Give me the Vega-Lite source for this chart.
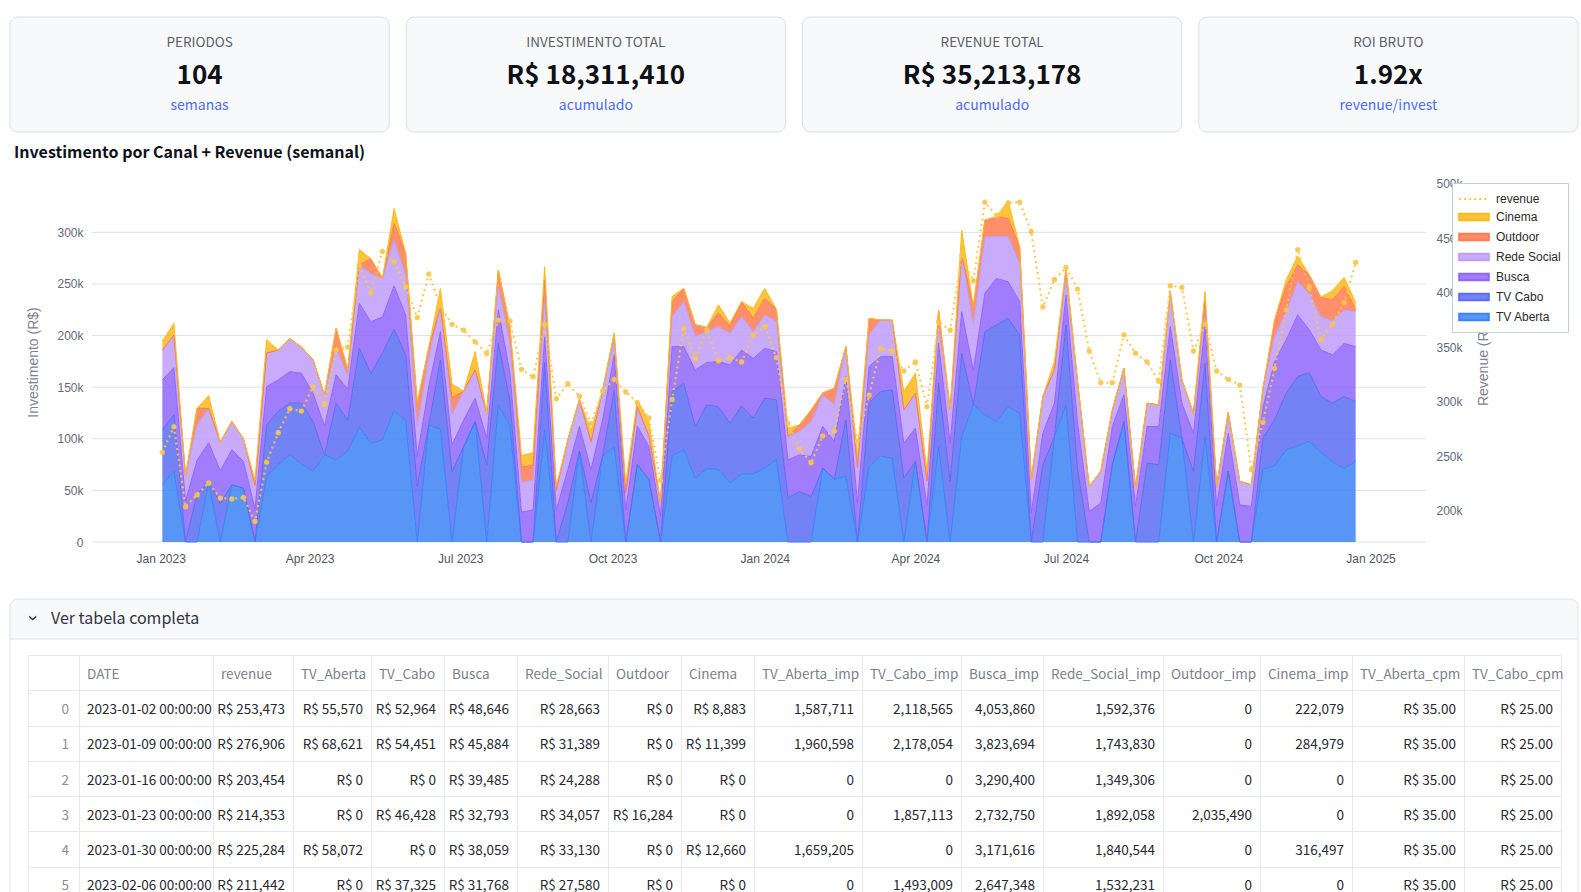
{
  "$schema": "https://vega.github.io/schema/vega-lite/v6.json",
  "background": "white",
  "padding": {"left": 9, "top": 16, "right": 4, "bottom": 0},
  "config": {
    "view": {"stroke": null},
    "font": "Liberation Sans, Arial, sans-serif",
    "locale": {"number": {"decimal": ".", "thousands": ",", "grouping": [3], "currency": ["R$ ", ""]}}
  },
  "datasets": {
    "kpis": [
      {"titulo": "PERIODOS", "valor": "104", "sub": "semanas"},
      {"titulo": "INVESTIMENTO TOTAL", "valor": "R$ 18,311,410", "sub": "acumulado"},
      {"titulo": "REVENUE TOTAL", "valor": "R$ 35,213,178", "sub": "acumulado"},
      {"titulo": "ROI BRUTO", "valor": "1.92x", "sub": "revenue/invest"}
    ],
    "tabela": [
      {"indice": 0, "DATE": "2023-01-02 00:00:00", "revenue": 253473, "TV_Aberta": 55570, "TV_Cabo": 52964, "Busca": 48646, "Rede_Social": 28663, "Outdoor": 0, "Cinema": 8883, "TV_Aberta_imp": 1587711, "TV_Cabo_imp": 2118565, "Busca_imp": 4053860, "Rede_Social_imp": 1592376, "Outdoor_imp": 0, "Cinema_imp": 222079, "TV_Aberta_cpm": 35, "TV_Cabo_cpm": 25},
      {"indice": 1, "DATE": "2023-01-09 00:00:00", "revenue": 276906, "TV_Aberta": 68621, "TV_Cabo": 54451, "Busca": 45884, "Rede_Social": 31389, "Outdoor": 0, "Cinema": 11399, "TV_Aberta_imp": 1960598, "TV_Cabo_imp": 2178054, "Busca_imp": 3823694, "Rede_Social_imp": 1743830, "Outdoor_imp": 0, "Cinema_imp": 284979, "TV_Aberta_cpm": 35, "TV_Cabo_cpm": 25},
      {"indice": 2, "DATE": "2023-01-16 00:00:00", "revenue": 203454, "TV_Aberta": 0, "TV_Cabo": 0, "Busca": 39485, "Rede_Social": 24288, "Outdoor": 0, "Cinema": 0, "TV_Aberta_imp": 0, "TV_Cabo_imp": 0, "Busca_imp": 3290400, "Rede_Social_imp": 1349306, "Outdoor_imp": 0, "Cinema_imp": 0, "TV_Aberta_cpm": 35, "TV_Cabo_cpm": 25},
      {"indice": 3, "DATE": "2023-01-23 00:00:00", "revenue": 214353, "TV_Aberta": 0, "TV_Cabo": 46428, "Busca": 32793, "Rede_Social": 34057, "Outdoor": 16284, "Cinema": 0, "TV_Aberta_imp": 0, "TV_Cabo_imp": 1857113, "Busca_imp": 2732750, "Rede_Social_imp": 1892058, "Outdoor_imp": 2035490, "Cinema_imp": 0, "TV_Aberta_cpm": 35, "TV_Cabo_cpm": 25},
      {"indice": 4, "DATE": "2023-01-30 00:00:00", "revenue": 225284, "TV_Aberta": 58072, "TV_Cabo": 0, "Busca": 38059, "Rede_Social": 33130, "Outdoor": 0, "Cinema": 12660, "TV_Aberta_imp": 1659205, "TV_Cabo_imp": 0, "Busca_imp": 3171616, "Rede_Social_imp": 1840544, "Outdoor_imp": 0, "Cinema_imp": 316497, "TV_Aberta_cpm": 35, "TV_Cabo_cpm": 25},
      {"indice": 5, "DATE": "2023-02-06 00:00:00", "revenue": 211442, "TV_Aberta": 0, "TV_Cabo": 37325, "Busca": 31768, "Rede_Social": 27580, "Outdoor": 0, "Cinema": 0, "TV_Aberta_imp": 0, "TV_Cabo_imp": 1493009, "Busca_imp": 2647348, "Rede_Social_imp": 1532231, "Outdoor_imp": 0, "Cinema_imp": 0, "TV_Aberta_cpm": 35, "TV_Cabo_cpm": 25}
    ],
    "semanal": [
      {"semana": "2023-01-02", "revenue": 253473, "TV_Aberta": 55570, "TV_Cabo": 52964, "Busca": 48646, "Rede_Social": 28663, "Outdoor": 0, "Cinema": 8883},
      {"semana": "2023-01-09", "revenue": 276906, "TV_Aberta": 68621, "TV_Cabo": 54451, "Busca": 45884, "Rede_Social": 31389, "Outdoor": 0, "Cinema": 11399},
      {"semana": "2023-01-16", "revenue": 203454, "TV_Aberta": 0, "TV_Cabo": 0, "Busca": 39485, "Rede_Social": 24288, "Outdoor": 0, "Cinema": 0},
      {"semana": "2023-01-23", "revenue": 214353, "TV_Aberta": 0, "TV_Cabo": 46428, "Busca": 32793, "Rede_Social": 34057, "Outdoor": 16284, "Cinema": 0},
      {"semana": "2023-01-30", "revenue": 225284, "TV_Aberta": 58072, "TV_Cabo": 0, "Busca": 38059, "Rede_Social": 33130, "Outdoor": 0, "Cinema": 12660},
      {"semana": "2023-02-06", "revenue": 211442, "TV_Aberta": 0, "TV_Cabo": 37325, "Busca": 31768, "Rede_Social": 27580, "Outdoor": 0, "Cinema": 0},
      {"semana": "2023-02-13", "revenue": 210700, "TV_Aberta": 55500, "TV_Cabo": 0, "Busca": 33900, "Rede_Social": 27400, "Outdoor": 0, "Cinema": 0},
      {"semana": "2023-02-20", "revenue": 212000, "TV_Aberta": 52000, "TV_Cabo": 0, "Busca": 26000, "Rede_Social": 22000, "Outdoor": 0, "Cinema": 0},
      {"semana": "2023-02-27", "revenue": 190000, "TV_Aberta": 0, "TV_Cabo": 0, "Busca": 32000, "Rede_Social": 23000, "Outdoor": 0, "Cinema": 5000},
      {"semana": "2023-03-06", "revenue": 244400, "TV_Aberta": 63500, "TV_Cabo": 50000, "Busca": 37000, "Rede_Social": 32500, "Outdoor": 0, "Cinema": 13000},
      {"semana": "2023-03-13", "revenue": 271500, "TV_Aberta": 75000, "TV_Cabo": 51500, "Busca": 30500, "Rede_Social": 29000, "Outdoor": 0, "Cinema": 0},
      {"semana": "2023-03-20", "revenue": 293500, "TV_Aberta": 84500, "TV_Cabo": 50000, "Busca": 30500, "Rede_Social": 32000, "Outdoor": 0, "Cinema": 0},
      {"semana": "2023-03-27", "revenue": 291400, "TV_Aberta": 76000, "TV_Cabo": 58500, "Busca": 29000, "Rede_Social": 25500, "Outdoor": 0, "Cinema": 0},
      {"semana": "2023-04-03", "revenue": 313500, "TV_Aberta": 68400, "TV_Cabo": 48400, "Busca": 27500, "Rede_Social": 32500, "Outdoor": 0, "Cinema": 0},
      {"semana": "2023-04-10", "revenue": 297500, "TV_Aberta": 84500, "TV_Cabo": 0, "Busca": 28000, "Rede_Social": 30000, "Outdoor": 0, "Cinema": 0},
      {"semana": "2023-04-17", "revenue": 347500, "TV_Aberta": 79700, "TV_Cabo": 54800, "Busca": 27500, "Rede_Social": 26000, "Outdoor": 19000, "Cinema": 0},
      {"semana": "2023-04-24", "revenue": 350000, "TV_Aberta": 88000, "TV_Cabo": 30000, "Busca": 30000, "Rede_Social": 13000, "Outdoor": 6000, "Cinema": 0},
      {"semana": "2023-05-01", "revenue": 425000, "TV_Aberta": 111000, "TV_Cabo": 76700, "Busca": 43500, "Rede_Social": 37000, "Outdoor": 0, "Cinema": 15000},
      {"semana": "2023-05-08", "revenue": 400000, "TV_Aberta": 95800, "TV_Cabo": 67700, "Busca": 50000, "Rede_Social": 46500, "Outdoor": 14500, "Cinema": 0},
      {"semana": "2023-05-15", "revenue": 438000, "TV_Aberta": 99000, "TV_Cabo": 84000, "Busca": 35000, "Rede_Social": 37500, "Outdoor": 0, "Cinema": 0},
      {"semana": "2023-05-22", "revenue": 428600, "TV_Aberta": 127400, "TV_Cabo": 78700, "Busca": 42000, "Rede_Social": 44500, "Outdoor": 16000, "Cinema": 14500},
      {"semana": "2023-05-29", "revenue": 405600, "TV_Aberta": 117700, "TV_Cabo": 63600, "Busca": 38700, "Rede_Social": 38700, "Outdoor": 21000, "Cinema": 0},
      {"semana": "2023-06-05", "revenue": 377300, "TV_Aberta": 0, "TV_Cabo": 53800, "Busca": 29000, "Rede_Social": 29000, "Outdoor": 22500, "Cinema": 0},
      {"semana": "2023-06-12", "revenue": 417200, "TV_Aberta": 113500, "TV_Cabo": 0, "Busca": 37000, "Rede_Social": 29000, "Outdoor": 9000, "Cinema": 0},
      {"semana": "2023-06-19", "revenue": 388000, "TV_Aberta": 109300, "TV_Cabo": 67000, "Busca": 27400, "Rede_Social": 24000, "Outdoor": 0, "Cinema": 17800},
      {"semana": "2023-06-26", "revenue": 371100, "TV_Aberta": 0, "TV_Cabo": 68000, "Busca": 26000, "Rede_Social": 29000, "Outdoor": 17000, "Cinema": 13000},
      {"semana": "2023-07-03", "revenue": 365700, "TV_Aberta": 92000, "TV_Cabo": 0, "Busca": 26000, "Rede_Social": 28000, "Outdoor": 0, "Cinema": 0},
      {"semana": "2023-07-10", "revenue": 354900, "TV_Aberta": 116700, "TV_Cabo": 0, "Busca": 22600, "Rede_Social": 27400, "Outdoor": 0, "Cinema": 17700},
      {"semana": "2023-07-17", "revenue": 344200, "TV_Aberta": 0, "TV_Cabo": 74800, "Busca": 25800, "Rede_Social": 24200, "Outdoor": 0, "Cinema": 0},
      {"semana": "2023-07-24", "revenue": 374900, "TV_Aberta": 133000, "TV_Cabo": 59500, "Busca": 32300, "Rede_Social": 24200, "Outdoor": 14500, "Cinema": 0},
      {"semana": "2023-07-31", "revenue": 374200, "TV_Aberta": 112000, "TV_Cabo": 25000, "Busca": 27000, "Rede_Social": 27000, "Outdoor": 18000, "Cinema": 0},
      {"semana": "2023-08-07", "revenue": 329700, "TV_Aberta": 0, "TV_Cabo": 0, "Busca": 29000, "Rede_Social": 29000, "Outdoor": 14500, "Cinema": 11300},
      {"semana": "2023-08-14", "revenue": 322700, "TV_Aberta": 0, "TV_Cabo": 0, "Busca": 31000, "Rede_Social": 29000, "Outdoor": 14500, "Cinema": 12000},
      {"semana": "2023-08-21", "revenue": 371100, "TV_Aberta": 108700, "TV_Cabo": 65000, "Busca": 25000, "Rede_Social": 38000, "Outdoor": 17000, "Cinema": 13000},
      {"semana": "2023-08-28", "revenue": 302700, "TV_Aberta": 0, "TV_Cabo": 0, "Busca": 31000, "Rede_Social": 19000, "Outdoor": 0, "Cinema": 4000},
      {"semana": "2023-09-04", "revenue": 316500, "TV_Aberta": 0, "TV_Cabo": 38000, "Busca": 32000, "Rede_Social": 29000, "Outdoor": 0, "Cinema": 0},
      {"semana": "2023-09-11", "revenue": 305100, "TV_Aberta": 88000, "TV_Cabo": 0, "Busca": 24000, "Rede_Social": 26000, "Outdoor": 0, "Cinema": 0},
      {"semana": "2023-09-18", "revenue": 280000, "TV_Aberta": 0, "TV_Cabo": 38000, "Busca": 32000, "Rede_Social": 27000, "Outdoor": 0, "Cinema": 11000},
      {"semana": "2023-09-25", "revenue": 309800, "TV_Aberta": 83200, "TV_Cabo": 0, "Busca": 35000, "Rede_Social": 29000, "Outdoor": 0, "Cinema": 0},
      {"semana": "2023-10-02", "revenue": 320500, "TV_Aberta": 92000, "TV_Cabo": 55000, "Busca": 34000, "Rede_Social": 14000, "Outdoor": 7000, "Cinema": 0},
      {"semana": "2023-10-09", "revenue": 308900, "TV_Aberta": 0, "TV_Cabo": 0, "Busca": 31000, "Rede_Social": 17000, "Outdoor": 0, "Cinema": 9000},
      {"semana": "2023-10-16", "revenue": 299100, "TV_Aberta": 75000, "TV_Cabo": 0, "Busca": 37000, "Rede_Social": 19000, "Outdoor": 0, "Cinema": 6700},
      {"semana": "2023-10-23", "revenue": 285200, "TV_Aberta": 60600, "TV_Cabo": 0, "Busca": 32000, "Rede_Social": 10000, "Outdoor": 0, "Cinema": 14000},
      {"semana": "2023-10-30", "revenue": 227800, "TV_Aberta": 0, "TV_Cabo": 0, "Busca": 25000, "Rede_Social": 12700, "Outdoor": 0, "Cinema": 0},
      {"semana": "2023-11-06", "revenue": 302000, "TV_Aberta": 83200, "TV_Cabo": 62600, "Busca": 43500, "Rede_Social": 29000, "Outdoor": 14500, "Cinema": 5000},
      {"semana": "2023-11-13", "revenue": 367200, "TV_Aberta": 89600, "TV_Cabo": 64200, "Busca": 35500, "Rede_Social": 43600, "Outdoor": 12900, "Cinema": 0},
      {"semana": "2023-11-20", "revenue": 339900, "TV_Aberta": 62000, "TV_Cabo": 50000, "Busca": 54800, "Rede_Social": 32300, "Outdoor": 11300, "Cinema": 0},
      {"semana": "2023-11-27", "revenue": 365900, "TV_Aberta": 70900, "TV_Cabo": 62000, "Busca": 41000, "Rede_Social": 30000, "Outdoor": 4000, "Cinema": 0},
      {"semana": "2023-12-04", "revenue": 337500, "TV_Aberta": 70300, "TV_Cabo": 60700, "Busca": 43800, "Rede_Social": 33900, "Outdoor": 13000, "Cinema": 8000},
      {"semana": "2023-12-11", "revenue": 340500, "TV_Aberta": 57400, "TV_Cabo": 57600, "Busca": 56600, "Rede_Social": 30600, "Outdoor": 7000, "Cinema": 3000},
      {"semana": "2023-12-18", "revenue": 336500, "TV_Aberta": 66000, "TV_Cabo": 65900, "Busca": 54000, "Rede_Social": 32400, "Outdoor": 14500, "Cinema": 0},
      {"semana": "2023-12-25", "revenue": 361000, "TV_Aberta": 66000, "TV_Cabo": 54000, "Busca": 58000, "Rede_Social": 25800, "Outdoor": 12900, "Cinema": 9700},
      {"semana": "2024-01-01", "revenue": 369000, "TV_Aberta": 71600, "TV_Cabo": 67800, "Busca": 48300, "Rede_Social": 32300, "Outdoor": 16000, "Cinema": 9700},
      {"semana": "2024-01-08", "revenue": 340500, "TV_Aberta": 80300, "TV_Cabo": 57400, "Busca": 46800, "Rede_Social": 29000, "Outdoor": 12000, "Cinema": 0},
      {"semana": "2024-01-15", "revenue": 280000, "TV_Aberta": 0, "TV_Cabo": 42500, "Busca": 37100, "Rede_Social": 22600, "Outdoor": 0, "Cinema": 8000},
      {"semana": "2024-01-22", "revenue": 256700, "TV_Aberta": 0, "TV_Cabo": 48900, "Busca": 35500, "Rede_Social": 22600, "Outdoor": 6500, "Cinema": 0},
      {"semana": "2024-01-29", "revenue": 243800, "TV_Aberta": 0, "TV_Cabo": 44000, "Busca": 38700, "Rede_Social": 33900, "Outdoor": 11300, "Cinema": 0},
      {"semana": "2024-02-05", "revenue": 268400, "TV_Aberta": 71600, "TV_Cabo": 0, "Busca": 40300, "Rede_Social": 30600, "Outdoor": 2000, "Cinema": 0},
      {"semana": "2024-02-12", "revenue": 273000, "TV_Aberta": 61000, "TV_Cabo": 0, "Busca": 36500, "Rede_Social": 35500, "Outdoor": 16000, "Cinema": 0},
      {"semana": "2024-02-19", "revenue": 320500, "TV_Aberta": 63500, "TV_Cabo": 54800, "Busca": 41900, "Rede_Social": 29100, "Outdoor": 0, "Cinema": 0},
      {"semana": "2024-02-26", "revenue": 263800, "TV_Aberta": 0, "TV_Cabo": 0, "Busca": 38000, "Rede_Social": 34000, "Outdoor": 0, "Cinema": 12500},
      {"semana": "2024-03-04", "revenue": 305900, "TV_Aberta": 73200, "TV_Cabo": 61300, "Busca": 35500, "Rede_Social": 30600, "Outdoor": 16100, "Cinema": 0},
      {"semana": "2024-03-11", "revenue": 348800, "TV_Aberta": 83200, "TV_Cabo": 62600, "Busca": 33800, "Rede_Social": 35400, "Outdoor": 0, "Cinema": 0},
      {"semana": "2024-03-18", "revenue": 346700, "TV_Aberta": 81300, "TV_Cabo": 66100, "Busca": 32200, "Rede_Social": 35400, "Outdoor": 0, "Cinema": 0},
      {"semana": "2024-03-25", "revenue": 328200, "TV_Aberta": 0, "TV_Cabo": 61900, "Busca": 33900, "Rede_Social": 32200, "Outdoor": 0, "Cinema": 17800},
      {"semana": "2024-04-01", "revenue": 336500, "TV_Aberta": 78000, "TV_Cabo": 0, "Busca": 32300, "Rede_Social": 33900, "Outdoor": 0, "Cinema": 19400},
      {"semana": "2024-04-08", "revenue": 295400, "TV_Aberta": 0, "TV_Cabo": 0, "Busca": 35000, "Rede_Social": 24000, "Outdoor": 0, "Cinema": 9400},
      {"semana": "2024-04-15", "revenue": 373300, "TV_Aberta": 92500, "TV_Cabo": 61300, "Busca": 38700, "Rede_Social": 16000, "Outdoor": 16300, "Cinema": 0},
      {"semana": "2024-04-22", "revenue": 365700, "TV_Aberta": 0, "TV_Cabo": 58700, "Busca": 37000, "Rede_Social": 32300, "Outdoor": 0, "Cinema": 0},
      {"semana": "2024-04-29", "revenue": 434000, "TV_Aberta": 102200, "TV_Cabo": 80700, "Busca": 40300, "Rede_Social": 55000, "Outdoor": 0, "Cinema": 24000},
      {"semana": "2024-05-06", "revenue": 411000, "TV_Aberta": 133000, "TV_Cabo": 0, "Busca": 33000, "Rede_Social": 44000, "Outdoor": 18000, "Cinema": 0},
      {"semana": "2024-05-13", "revenue": 483200, "TV_Aberta": 123200, "TV_Cabo": 80600, "Busca": 37200, "Rede_Social": 54800, "Outdoor": 16100, "Cinema": 0},
      {"semana": "2024-05-20", "revenue": 470900, "TV_Aberta": 116700, "TV_Cabo": 93600, "Busca": 45100, "Rede_Social": 40400, "Outdoor": 19400, "Cinema": 0},
      {"semana": "2024-05-27", "revenue": 482600, "TV_Aberta": 131300, "TV_Cabo": 85400, "Busca": 35500, "Rede_Social": 43600, "Outdoor": 17700, "Cinema": 17100},
      {"semana": "2024-06-03", "revenue": 483200, "TV_Aberta": 124800, "TV_Cabo": 75800, "Busca": 32300, "Rede_Social": 37000, "Outdoor": 16100, "Cinema": 0},
      {"semana": "2024-06-10", "revenue": 456200, "TV_Aberta": 0, "TV_Cabo": 0, "Busca": 28000, "Rede_Social": 32300, "Outdoor": 0, "Cinema": 0},
      {"semana": "2024-06-17", "revenue": 387000, "TV_Aberta": 0, "TV_Cabo": 74800, "Busca": 30600, "Rede_Social": 35500, "Outdoor": 0, "Cinema": 0},
      {"semana": "2024-06-24", "revenue": 412000, "TV_Aberta": 102000, "TV_Cabo": 0, "Busca": 32500, "Rede_Social": 32300, "Outdoor": 0, "Cinema": 8000},
      {"semana": "2024-07-01", "revenue": 423400, "TV_Aberta": 132900, "TV_Cabo": 77400, "Busca": 29000, "Rede_Social": 17700, "Outdoor": 8000, "Cinema": 0},
      {"semana": "2024-07-08", "revenue": 403400, "TV_Aberta": 0, "TV_Cabo": 70000, "Busca": 45000, "Rede_Social": 40000, "Outdoor": 0, "Cinema": 0},
      {"semana": "2024-07-15", "revenue": 346600, "TV_Aberta": 0, "TV_Cabo": 0, "Busca": 29600, "Rede_Social": 24200, "Outdoor": 0, "Cinema": 0},
      {"semana": "2024-07-22", "revenue": 317400, "TV_Aberta": 0, "TV_Cabo": 0, "Busca": 37700, "Rede_Social": 30700, "Outdoor": 0, "Cinema": 0},
      {"semana": "2024-07-29", "revenue": 317400, "TV_Aberta": 75000, "TV_Cabo": 0, "Busca": 37000, "Rede_Social": 16000, "Outdoor": 0, "Cinema": 0},
      {"semana": "2024-08-05", "revenue": 361400, "TV_Aberta": 116700, "TV_Cabo": 0, "Busca": 25800, "Rede_Social": 25800, "Outdoor": 0, "Cinema": 0},
      {"semana": "2024-08-12", "revenue": 344500, "TV_Aberta": 0, "TV_Cabo": 0, "Busca": 34500, "Rede_Social": 17700, "Outdoor": 0, "Cinema": 0},
      {"semana": "2024-08-19", "revenue": 336500, "TV_Aberta": 0, "TV_Cabo": 76400, "Busca": 35500, "Rede_Social": 22600, "Outdoor": 0, "Cinema": 0},
      {"semana": "2024-08-26", "revenue": 318700, "TV_Aberta": 0, "TV_Cabo": 74800, "Busca": 37000, "Rede_Social": 21000, "Outdoor": 0, "Cinema": 0},
      {"semana": "2024-09-02", "revenue": 406500, "TV_Aberta": 105400, "TV_Cabo": 71000, "Busca": 32300, "Rede_Social": 30000, "Outdoor": 3800, "Cinema": 0},
      {"semana": "2024-09-09", "revenue": 404900, "TV_Aberta": 100600, "TV_Cabo": 0, "Busca": 33800, "Rede_Social": 22600, "Outdoor": 0, "Cinema": 0},
      {"semana": "2024-09-16", "revenue": 346600, "TV_Aberta": 0, "TV_Cabo": 68400, "Busca": 37000, "Rede_Social": 19400, "Outdoor": 0, "Cinema": 0},
      {"semana": "2024-09-23", "revenue": 371200, "TV_Aberta": 102000, "TV_Cabo": 71000, "Busca": 37000, "Rede_Social": 15000, "Outdoor": 9000, "Cinema": 8700},
      {"semana": "2024-09-30", "revenue": 328200, "TV_Aberta": 0, "TV_Cabo": 0, "Busca": 34500, "Rede_Social": 19400, "Outdoor": 0, "Cinema": 0},
      {"semana": "2024-10-07", "revenue": 320500, "TV_Aberta": 68400, "TV_Cabo": 0, "Busca": 37000, "Rede_Social": 20000, "Outdoor": 0, "Cinema": 0},
      {"semana": "2024-10-14", "revenue": 315300, "TV_Aberta": 0, "TV_Cabo": 0, "Busca": 36000, "Rede_Social": 22700, "Outdoor": 0, "Cinema": 0},
      {"semana": "2024-10-21", "revenue": 237700, "TV_Aberta": 0, "TV_Cabo": 0, "Busca": 34500, "Rede_Social": 21000, "Outdoor": 0, "Cinema": 0},
      {"semana": "2024-10-28", "revenue": 281200, "TV_Aberta": 70600, "TV_Cabo": 30000, "Busca": 30000, "Rede_Social": 18400, "Outdoor": 0, "Cinema": 0},
      {"semana": "2024-11-04", "revenue": 330600, "TV_Aberta": 73800, "TV_Cabo": 44600, "Busca": 56400, "Rede_Social": 24200, "Outdoor": 14500, "Cinema": 1500},
      {"semana": "2024-11-11", "revenue": 384400, "TV_Aberta": 89300, "TV_Cabo": 54900, "Busca": 51600, "Rede_Social": 27400, "Outdoor": 24200, "Cinema": 6400},
      {"semana": "2024-11-18", "revenue": 439700, "TV_Aberta": 93200, "TV_Cabo": 67100, "Busca": 59700, "Rede_Social": 32200, "Outdoor": 16200, "Cinema": 8700},
      {"semana": "2024-11-25", "revenue": 405000, "TV_Aberta": 97400, "TV_Cabo": 66800, "Busca": 41300, "Rede_Social": 35400, "Outdoor": 17800, "Cinema": 0},
      {"semana": "2024-12-02", "revenue": 357300, "TV_Aberta": 87000, "TV_Cabo": 54000, "Busca": 45100, "Rede_Social": 32300, "Outdoor": 18700, "Cinema": 0},
      {"semana": "2024-12-09", "revenue": 371100, "TV_Aberta": 77400, "TV_Cabo": 57100, "Busca": 46800, "Rede_Social": 33200, "Outdoor": 20000, "Cinema": 9000},
      {"semana": "2024-12-16", "revenue": 391100, "TV_Aberta": 71600, "TV_Cabo": 69400, "Busca": 51500, "Rede_Social": 32300, "Outdoor": 22600, "Cinema": 9000},
      {"semana": "2024-12-23", "revenue": 427900, "TV_Aberta": 78000, "TV_Cabo": 58100, "Busca": 53200, "Rede_Social": 33900, "Outdoor": 1600, "Cinema": 7100}
    ]
  },
  "vconcat": [
    {
      "width": 1568,
      "height": 115,
      "data": {"name": "kpis"},
      "encoding": {
        "x": {"field": "titulo", "type": "nominal", "sort": null, "scale": {"paddingInner": 0.043, "paddingOuter": 0}, "axis": null}
      },
      "layer": [
        {"mark": {"type": "rect", "fill": "#f8f9fb", "stroke": "#dadde3", "strokeWidth": 1, "cornerRadius": 8}},
        {"mark": {"type": "text", "baseline": "middle", "dy": -32, "font": "Noto Sans CJK SC, Liberation Sans, sans-serif", "fontSize": 13.5, "color": "#5a5e68"}, "encoding": {"text": {"field": "titulo"}}},
        {"mark": {"type": "text", "baseline": "middle", "dy": 1.5, "font": "Noto Sans CJK SC, Liberation Sans, sans-serif", "fontSize": 26, "fontWeight": "bold", "color": "#0e1117"}, "encoding": {"text": {"field": "valor"}}},
        {"mark": {"type": "text", "baseline": "middle", "dy": 31.5, "font": "Noto Sans CJK SC, Liberation Sans, sans-serif", "fontSize": 14, "color": "#4a6cf7"}, "encoding": {"text": {"field": "sub"}}}
      ]
    },
    {
      "vconcat": [
        {
          "width": 1416,
          "height": 360,
          "title": {"text": "Investimento por Canal + Revenue (semanal)", "anchor": "start", "frame": "group", "dx": 4, "offset": 4, "baseline": "alphabetic", "font": "Noto Sans CJK SC, Liberation Sans, sans-serif", "fontSize": 16, "fontWeight": "bold", "color": "#0e1117"},
          "data": {"name": "semanal"},
          "layer": [
            {
              "layer": [
                {
                  "data": {"values": [{"grade": 0}, {"grade": 50000}, {"grade": 100000}, {"grade": 150000}, {"grade": 200000}, {"grade": 250000}, {"grade": 300000}]},
                  "mark": {"type": "rule", "stroke": "#dde1e8", "strokeWidth": 1},
                  "encoding": {
                    "x": {"datum": {"year": 2022, "month": 11, "date": 20, "hours": 12, "utc": true}, "type": "temporal"},
                    "x2": {"datum": {"year": 2025, "month": 2, "date": 3, "hours": 12, "utc": true}},
                    "y": {"field": "grade", "type": "quantitative", "axis": {"values": [0, 50000, 100000, 150000, 200000, 250000, 300000], "format": "~s", "labelExpr": "datum.value === 0 ? '0' : datum.label", "grid": false, "offset": -82, "domain": false, "ticks": false, "labelPadding": 9, "labelFont": "Liberation Sans, Arial, sans-serif", "labelFontSize": 12, "labelColor": "#656a78", "title": "Investimento (R$)", "titleFont": "Liberation Sans, Arial, sans-serif", "titleFontSize": 14, "titleFontWeight": "normal", "titleColor": "#7e8391", "titleX": -59, "titleY": 180, "titleAngle": -90, "titleAlign": "center", "titleBaseline": "middle"}}
                  }
                },
                {
                  "transform": [
                    {"fold": ["TV_Aberta", "TV_Cabo", "Busca", "Rede_Social", "Outdoor", "Cinema"], "as": ["canal", "invest"]},
                    {"calculate": "indexof(['TV_Aberta','TV_Cabo','Busca','Rede_Social','Outdoor','Cinema'], datum.canal)", "as": "ordem"}
                  ],
                  "mark": {"type": "area", "fillOpacity": 0.85, "line": {"strokeWidth": 1}},
                  "encoding": {
                    "x": {
                      "field": "semana", "type": "temporal",
                      "scale": {"type": "utc", "domain": [{"year": 2022, "month": 11, "date": 20, "hours": 12, "utc": true}, {"year": 2025, "month": 2, "date": 3, "hours": 12, "utc": true}], "range": [82, 1416]},
                      "axis": {"format": "%b %Y", "tickCount": {"interval": "month", "step": 3}, "grid": false, "domain": false, "ticks": false, "labelPadding": 11, "labelFont": "Liberation Sans, Arial, sans-serif", "labelFontSize": 12, "labelColor": "#505462", "labelOverlap": false, "title": null}
                    },
                    "y": {
                      "field": "invest", "type": "quantitative", "stack": "zero",
                      "scale": {"domain": [0, 348800], "nice": false},
                      "axis": {"values": [0, 50000, 100000, 150000, 200000, 250000, 300000], "format": "~s", "labelExpr": "datum.value === 0 ? '0' : datum.label", "grid": false, "offset": -82, "domain": false, "ticks": false, "labelPadding": 9, "labelFont": "Liberation Sans, Arial, sans-serif", "labelFontSize": 12, "labelColor": "#656a78", "title": "Investimento (R$)", "titleFont": "Liberation Sans, Arial, sans-serif", "titleFontSize": 14, "titleFontWeight": "normal", "titleColor": "#7e8391", "titleX": -59, "titleY": 180, "titleAngle": -90, "titleAlign": "center", "titleBaseline": "middle"}
                    },
                    "color": {
                      "field": "canal", "type": "nominal",
                      "scale": {"domain": ["revenue", "Cinema", "Outdoor", "Rede_Social", "Busca", "TV_Cabo", "TV_Aberta"], "range": ["#fbc548", "#fdb91a", "#ff7a50", "#be9dfa", "#8f66f9", "#5b6cf2", "#3b82f6"]},
                      "legend": {
                        "title": null, "orient": "none", "legendX": 1442, "legendY": 1, "direction": "vertical",
                        "fillColor": "#ffffff", "strokeColor": "#c9cdd4", "padding": 7, "rowPadding": 3,
                        "symbolSize": 256, "labelOffset": 19, "labelFont": "Liberation Sans, Arial, sans-serif", "labelFontSize": 12, "labelColor": "#2a2a2a",
                        "labelExpr": "replace(datum.label, '_', ' ')",
                        "encode": {
                          "symbols": {
                            "update": {
                              "shape": {"signal": "datum.value === 'revenue' ? 'M-1.1,0H2.6' : 'M-1.1,-0.42H2.6V0.42H-1.1Z'"},
                              "fill": {"signal": "datum.value === 'revenue' ? 'transparent' : datum.value === 'Cinema' ? '#fdb91a' : datum.value === 'Outdoor' ? '#ff7a50' : datum.value === 'Rede_Social' ? '#be9dfa' : datum.value === 'Busca' ? '#8f66f9' : datum.value === 'TV_Cabo' ? '#5b6cf2' : '#3b82f6'"},
                              "fillOpacity": {"value": 0.85},
                              "stroke": {"signal": "datum.value === 'revenue' ? '#fbc548' : 'transparent'"},
                              "strokeWidth": {"value": 2},
                              "strokeDash": {"signal": "datum.value === 'revenue' ? [2, 3] : [1, 0]"},
                              "opacity": {"value": 1}
                            }
                          }
                        }
                      }
                    },
                    "order": {"field": "ordem", "type": "quantitative", "sort": "ascending"}
                  }
                }
              ]
            },
            {
              "mark": {"type": "line", "strokeWidth": 2.2, "strokeDash": [2, 3.5], "opacity": 0.9, "point": {"filled": true, "size": 28, "opacity": 0.9}},
              "encoding": {
                "x": {"field": "semana", "type": "temporal"},
                "y": {
                  "field": "revenue", "type": "quantitative",
                  "scale": {"domain": [171100, 501800], "nice": false, "zero": false},
                  "axis": {"orient": "right", "values": [200000, 250000, 300000, 350000, 400000, 450000, 500000], "format": "~s", "grid": false, "domain": false, "ticks": false, "labelPadding": 10, "labelFont": "Liberation Sans, Arial, sans-serif", "labelFontSize": 12, "labelColor": "#656a78", "title": "Revenue (R$)", "titleFont": "Liberation Sans, Arial, sans-serif", "titleFontSize": 14, "titleFontWeight": "normal", "titleColor": "#7e8391", "titleX": 57, "titleY": 180, "titleAngle": -90, "titleAlign": "center", "titleBaseline": "middle"}
                },
                "color": {"datum": "revenue"}
              }
            }
          ],
          "resolve": {"scale": {"y": "independent"}}
        },
        {
          "vconcat": [
            {
              "width": 1568,
              "height": 56,
              "data": {"values": [{"rotulo": "Ver tabela completa", "seta": "›"}]},
              "layer": [
                {
                  "mark": {"type": "rect", "fill": "#f8f9fb", "stroke": "#dfe2e7", "cornerRadiusTopLeft": 8, "cornerRadiusTopRight": 8},
                  "encoding": {
                    "x": {"datum": 0, "type": "quantitative", "scale": {"domain": [0, 1], "nice": false, "zero": false}, "axis": null},
                    "x2": {"datum": 1},
                    "y": {"datum": 0, "type": "quantitative", "scale": {"domain": [56, 0], "nice": false, "zero": false}, "axis": null},
                    "y2": {"datum": 40}
                  }
                },
                {"mark": {"type": "rule", "stroke": "#dfe2e7"}, "encoding": {"x": {"datum": 0, "type": "quantitative"}, "y": {"datum": 40, "type": "quantitative"}, "y2": {"datum": 56}}},
                {"mark": {"type": "rule", "stroke": "#dfe2e7"}, "encoding": {"x": {"datum": 1, "type": "quantitative"}, "y": {"datum": 40, "type": "quantitative"}, "y2": {"datum": 56}}},
                {"mark": {"type": "text", "align": "left", "baseline": "middle", "dx": 41, "dy": 1, "font": "Noto Sans CJK SC, Liberation Sans, sans-serif", "fontSize": 16, "color": "#31333f"}, "encoding": {"x": {"datum": 0, "type": "quantitative"}, "y": {"datum": 19, "type": "quantitative"}, "text": {"field": "rotulo"}}},
                {"mark": {"type": "text", "align": "center", "baseline": "middle", "angle": 90, "dy": -23, "font": "Liberation Sans, Arial, sans-serif", "fontSize": 18, "color": "#31333f"}, "encoding": {"x": {"datum": 0, "type": "quantitative"}, "y": {"datum": 19, "type": "quantitative"}, "text": {"field": "seta"}}}
              ]
            },
            {
              "hconcat": [
                {"width": 18, "height": 247, "data": {"values": [{}]}, "mark": {"type": "rule", "stroke": "#dfe2e7"}, "encoding": {"x": {"datum": 0, "type": "quantitative", "scale": {"domain": [0, 1]}, "axis": null}}},
                {
                  "width": 51, "height": 247, "view": {"stroke": "#e6e9ef"},
                  "data": {"name": "tabela"},
                  "mark": {"type": "text", "align": "right", "baseline": "middle", "dx": -10, "dy": 2, "font": "Noto Sans CJK SC, Liberation Sans, sans-serif", "fontSize": 13.5, "color": "#8a8d97"},
                  "encoding": {
                    "x": {"datum": 1, "type": "quantitative", "scale": {"domain": [0, 1], "nice": false, "zero": false}, "axis": null},
                    "y": {"field": "indice", "type": "nominal", "scale": {"domain": ["cab", 0, 1, 2, 3, 4, 5], "paddingInner": 0, "paddingOuter": 0}, "axis": {"grid": true, "tickBand": "extent", "labels": false, "ticks": false, "domain": false, "title": null, "gridColor": "#e6e9ef"}},
                    "text": {"field": "indice"}
                  }
                },
                {
                  "width": 134, "height": 247, "view": {"stroke": "#e6e9ef"},
                  "layer": [
                    {"data": {"values": [{"cab": "DATE"}]}, "mark": {"type": "text", "align": "left", "baseline": "middle", "dx": 8, "dy": 2, "font": "Noto Sans CJK SC, Liberation Sans, sans-serif", "fontSize": 13.5, "color": "#7b7f8a"}, "encoding": {"x": {"datum": 0, "type": "quantitative", "scale": {"domain": [0, 1], "nice": false, "zero": false}, "axis": null}, "y": {"datum": "cab", "type": "nominal", "scale": {"domain": ["cab", 0, 1, 2, 3, 4, 5], "paddingInner": 0, "paddingOuter": 0}, "axis": {"grid": true, "tickBand": "extent", "labels": false, "ticks": false, "domain": false, "title": null, "gridColor": "#e6e9ef"}}, "text": {"field": "cab"}}},
                    {"data": {"name": "tabela"}, "mark": {"type": "text", "align": "left", "baseline": "middle", "dx": 8, "dy": 2, "font": "Noto Sans CJK SC, Liberation Sans, sans-serif", "fontSize": 13.5, "color": "#262730"}, "encoding": {"x": {"datum": 0, "type": "quantitative"}, "y": {"field": "indice", "type": "nominal", "axis": {"grid": true, "tickBand": "extent", "labels": false, "ticks": false, "domain": false, "title": null, "gridColor": "#e6e9ef"}}, "text": {"field": "DATE"}}}
                  ]
                },
                {
                  "width": 80, "height": 247, "view": {"stroke": "#e6e9ef"},
                  "layer": [
                    {"data": {"values": [{"cab": "revenue"}]}, "mark": {"type": "text", "align": "left", "baseline": "middle", "dx": 8, "dy": 2, "font": "Noto Sans CJK SC, Liberation Sans, sans-serif", "fontSize": 13.5, "color": "#7b7f8a"}, "encoding": {"x": {"datum": 0, "type": "quantitative", "scale": {"domain": [0, 1], "nice": false, "zero": false}, "axis": null}, "y": {"datum": "cab", "type": "nominal", "scale": {"domain": ["cab", 0, 1, 2, 3, 4, 5], "paddingInner": 0, "paddingOuter": 0}, "axis": {"grid": true, "tickBand": "extent", "labels": false, "ticks": false, "domain": false, "title": null, "gridColor": "#e6e9ef"}}, "text": {"field": "cab"}}},
                    {"data": {"name": "tabela"}, "mark": {"type": "text", "align": "right", "baseline": "middle", "dx": -8, "dy": 2, "font": "Noto Sans CJK SC, Liberation Sans, sans-serif", "fontSize": 13.5, "color": "#262730"}, "encoding": {"x": {"datum": 1, "type": "quantitative"}, "y": {"field": "indice", "type": "nominal", "axis": {"grid": true, "tickBand": "extent", "labels": false, "ticks": false, "domain": false, "title": null, "gridColor": "#e6e9ef"}}, "text": {"field": "revenue", "format": "$,.0f"}}}
                  ]
                },
                {
                  "width": 78, "height": 247, "view": {"stroke": "#e6e9ef"},
                  "layer": [
                    {"data": {"values": [{"cab": "TV_Aberta"}]}, "mark": {"type": "text", "align": "left", "baseline": "middle", "dx": 8, "dy": 2, "font": "Noto Sans CJK SC, Liberation Sans, sans-serif", "fontSize": 13.5, "color": "#7b7f8a"}, "encoding": {"x": {"datum": 0, "type": "quantitative", "scale": {"domain": [0, 1], "nice": false, "zero": false}, "axis": null}, "y": {"datum": "cab", "type": "nominal", "scale": {"domain": ["cab", 0, 1, 2, 3, 4, 5], "paddingInner": 0, "paddingOuter": 0}, "axis": {"grid": true, "tickBand": "extent", "labels": false, "ticks": false, "domain": false, "title": null, "gridColor": "#e6e9ef"}}, "text": {"field": "cab"}}},
                    {"data": {"name": "tabela"}, "mark": {"type": "text", "align": "right", "baseline": "middle", "dx": -8, "dy": 2, "font": "Noto Sans CJK SC, Liberation Sans, sans-serif", "fontSize": 13.5, "color": "#262730"}, "encoding": {"x": {"datum": 1, "type": "quantitative"}, "y": {"field": "indice", "type": "nominal", "axis": {"grid": true, "tickBand": "extent", "labels": false, "ticks": false, "domain": false, "title": null, "gridColor": "#e6e9ef"}}, "text": {"field": "TV_Aberta", "format": "$,.0f"}}}
                  ]
                },
                {
                  "width": 73, "height": 247, "view": {"stroke": "#e6e9ef"},
                  "layer": [
                    {"data": {"values": [{"cab": "TV_Cabo"}]}, "mark": {"type": "text", "align": "left", "baseline": "middle", "dx": 8, "dy": 2, "font": "Noto Sans CJK SC, Liberation Sans, sans-serif", "fontSize": 13.5, "color": "#7b7f8a"}, "encoding": {"x": {"datum": 0, "type": "quantitative", "scale": {"domain": [0, 1], "nice": false, "zero": false}, "axis": null}, "y": {"datum": "cab", "type": "nominal", "scale": {"domain": ["cab", 0, 1, 2, 3, 4, 5], "paddingInner": 0, "paddingOuter": 0}, "axis": {"grid": true, "tickBand": "extent", "labels": false, "ticks": false, "domain": false, "title": null, "gridColor": "#e6e9ef"}}, "text": {"field": "cab"}}},
                    {"data": {"name": "tabela"}, "mark": {"type": "text", "align": "right", "baseline": "middle", "dx": -8, "dy": 2, "font": "Noto Sans CJK SC, Liberation Sans, sans-serif", "fontSize": 13.5, "color": "#262730"}, "encoding": {"x": {"datum": 1, "type": "quantitative"}, "y": {"field": "indice", "type": "nominal", "axis": {"grid": true, "tickBand": "extent", "labels": false, "ticks": false, "domain": false, "title": null, "gridColor": "#e6e9ef"}}, "text": {"field": "TV_Cabo", "format": "$,.0f"}}}
                  ]
                },
                {
                  "width": 73, "height": 247, "view": {"stroke": "#e6e9ef"},
                  "layer": [
                    {"data": {"values": [{"cab": "Busca"}]}, "mark": {"type": "text", "align": "left", "baseline": "middle", "dx": 8, "dy": 2, "font": "Noto Sans CJK SC, Liberation Sans, sans-serif", "fontSize": 13.5, "color": "#7b7f8a"}, "encoding": {"x": {"datum": 0, "type": "quantitative", "scale": {"domain": [0, 1], "nice": false, "zero": false}, "axis": null}, "y": {"datum": "cab", "type": "nominal", "scale": {"domain": ["cab", 0, 1, 2, 3, 4, 5], "paddingInner": 0, "paddingOuter": 0}, "axis": {"grid": true, "tickBand": "extent", "labels": false, "ticks": false, "domain": false, "title": null, "gridColor": "#e6e9ef"}}, "text": {"field": "cab"}}},
                    {"data": {"name": "tabela"}, "mark": {"type": "text", "align": "right", "baseline": "middle", "dx": -8, "dy": 2, "font": "Noto Sans CJK SC, Liberation Sans, sans-serif", "fontSize": 13.5, "color": "#262730"}, "encoding": {"x": {"datum": 1, "type": "quantitative"}, "y": {"field": "indice", "type": "nominal", "axis": {"grid": true, "tickBand": "extent", "labels": false, "ticks": false, "domain": false, "title": null, "gridColor": "#e6e9ef"}}, "text": {"field": "Busca", "format": "$,.0f"}}}
                  ]
                },
                {
                  "width": 91, "height": 247, "view": {"stroke": "#e6e9ef"},
                  "layer": [
                    {"data": {"values": [{"cab": "Rede_Social"}]}, "mark": {"type": "text", "align": "left", "baseline": "middle", "dx": 8, "dy": 2, "font": "Noto Sans CJK SC, Liberation Sans, sans-serif", "fontSize": 13.5, "color": "#7b7f8a"}, "encoding": {"x": {"datum": 0, "type": "quantitative", "scale": {"domain": [0, 1], "nice": false, "zero": false}, "axis": null}, "y": {"datum": "cab", "type": "nominal", "scale": {"domain": ["cab", 0, 1, 2, 3, 4, 5], "paddingInner": 0, "paddingOuter": 0}, "axis": {"grid": true, "tickBand": "extent", "labels": false, "ticks": false, "domain": false, "title": null, "gridColor": "#e6e9ef"}}, "text": {"field": "cab"}}},
                    {"data": {"name": "tabela"}, "mark": {"type": "text", "align": "right", "baseline": "middle", "dx": -8, "dy": 2, "font": "Noto Sans CJK SC, Liberation Sans, sans-serif", "fontSize": 13.5, "color": "#262730"}, "encoding": {"x": {"datum": 1, "type": "quantitative"}, "y": {"field": "indice", "type": "nominal", "axis": {"grid": true, "tickBand": "extent", "labels": false, "ticks": false, "domain": false, "title": null, "gridColor": "#e6e9ef"}}, "text": {"field": "Rede_Social", "format": "$,.0f"}}}
                  ]
                },
                {
                  "width": 73, "height": 247, "view": {"stroke": "#e6e9ef"},
                  "layer": [
                    {"data": {"values": [{"cab": "Outdoor"}]}, "mark": {"type": "text", "align": "left", "baseline": "middle", "dx": 8, "dy": 2, "font": "Noto Sans CJK SC, Liberation Sans, sans-serif", "fontSize": 13.5, "color": "#7b7f8a"}, "encoding": {"x": {"datum": 0, "type": "quantitative", "scale": {"domain": [0, 1], "nice": false, "zero": false}, "axis": null}, "y": {"datum": "cab", "type": "nominal", "scale": {"domain": ["cab", 0, 1, 2, 3, 4, 5], "paddingInner": 0, "paddingOuter": 0}, "axis": {"grid": true, "tickBand": "extent", "labels": false, "ticks": false, "domain": false, "title": null, "gridColor": "#e6e9ef"}}, "text": {"field": "cab"}}},
                    {"data": {"name": "tabela"}, "mark": {"type": "text", "align": "right", "baseline": "middle", "dx": -8, "dy": 2, "font": "Noto Sans CJK SC, Liberation Sans, sans-serif", "fontSize": 13.5, "color": "#262730"}, "encoding": {"x": {"datum": 1, "type": "quantitative"}, "y": {"field": "indice", "type": "nominal", "axis": {"grid": true, "tickBand": "extent", "labels": false, "ticks": false, "domain": false, "title": null, "gridColor": "#e6e9ef"}}, "text": {"field": "Outdoor", "format": "$,.0f"}}}
                  ]
                },
                {
                  "width": 73, "height": 247, "view": {"stroke": "#e6e9ef"},
                  "layer": [
                    {"data": {"values": [{"cab": "Cinema"}]}, "mark": {"type": "text", "align": "left", "baseline": "middle", "dx": 8, "dy": 2, "font": "Noto Sans CJK SC, Liberation Sans, sans-serif", "fontSize": 13.5, "color": "#7b7f8a"}, "encoding": {"x": {"datum": 0, "type": "quantitative", "scale": {"domain": [0, 1], "nice": false, "zero": false}, "axis": null}, "y": {"datum": "cab", "type": "nominal", "scale": {"domain": ["cab", 0, 1, 2, 3, 4, 5], "paddingInner": 0, "paddingOuter": 0}, "axis": {"grid": true, "tickBand": "extent", "labels": false, "ticks": false, "domain": false, "title": null, "gridColor": "#e6e9ef"}}, "text": {"field": "cab"}}},
                    {"data": {"name": "tabela"}, "mark": {"type": "text", "align": "right", "baseline": "middle", "dx": -8, "dy": 2, "font": "Noto Sans CJK SC, Liberation Sans, sans-serif", "fontSize": 13.5, "color": "#262730"}, "encoding": {"x": {"datum": 1, "type": "quantitative"}, "y": {"field": "indice", "type": "nominal", "axis": {"grid": true, "tickBand": "extent", "labels": false, "ticks": false, "domain": false, "title": null, "gridColor": "#e6e9ef"}}, "text": {"field": "Cinema", "format": "$,.0f"}}}
                  ]
                },
                {
                  "width": 108, "height": 247, "view": {"stroke": "#e6e9ef"},
                  "layer": [
                    {"data": {"values": [{"cab": "TV_Aberta_imp"}]}, "mark": {"type": "text", "align": "left", "baseline": "middle", "dx": 8, "dy": 2, "font": "Noto Sans CJK SC, Liberation Sans, sans-serif", "fontSize": 13.5, "color": "#7b7f8a"}, "encoding": {"x": {"datum": 0, "type": "quantitative", "scale": {"domain": [0, 1], "nice": false, "zero": false}, "axis": null}, "y": {"datum": "cab", "type": "nominal", "scale": {"domain": ["cab", 0, 1, 2, 3, 4, 5], "paddingInner": 0, "paddingOuter": 0}, "axis": {"grid": true, "tickBand": "extent", "labels": false, "ticks": false, "domain": false, "title": null, "gridColor": "#e6e9ef"}}, "text": {"field": "cab"}}},
                    {"data": {"name": "tabela"}, "mark": {"type": "text", "align": "right", "baseline": "middle", "dx": -8, "dy": 2, "font": "Noto Sans CJK SC, Liberation Sans, sans-serif", "fontSize": 13.5, "color": "#262730"}, "encoding": {"x": {"datum": 1, "type": "quantitative"}, "y": {"field": "indice", "type": "nominal", "axis": {"grid": true, "tickBand": "extent", "labels": false, "ticks": false, "domain": false, "title": null, "gridColor": "#e6e9ef"}}, "text": {"field": "TV_Aberta_imp", "format": ",.0f"}}}
                  ]
                },
                {
                  "width": 99, "height": 247, "view": {"stroke": "#e6e9ef"},
                  "layer": [
                    {"data": {"values": [{"cab": "TV_Cabo_imp"}]}, "mark": {"type": "text", "align": "left", "baseline": "middle", "dx": 8, "dy": 2, "font": "Noto Sans CJK SC, Liberation Sans, sans-serif", "fontSize": 13.5, "color": "#7b7f8a"}, "encoding": {"x": {"datum": 0, "type": "quantitative", "scale": {"domain": [0, 1], "nice": false, "zero": false}, "axis": null}, "y": {"datum": "cab", "type": "nominal", "scale": {"domain": ["cab", 0, 1, 2, 3, 4, 5], "paddingInner": 0, "paddingOuter": 0}, "axis": {"grid": true, "tickBand": "extent", "labels": false, "ticks": false, "domain": false, "title": null, "gridColor": "#e6e9ef"}}, "text": {"field": "cab"}}},
                    {"data": {"name": "tabela"}, "mark": {"type": "text", "align": "right", "baseline": "middle", "dx": -8, "dy": 2, "font": "Noto Sans CJK SC, Liberation Sans, sans-serif", "fontSize": 13.5, "color": "#262730"}, "encoding": {"x": {"datum": 1, "type": "quantitative"}, "y": {"field": "indice", "type": "nominal", "axis": {"grid": true, "tickBand": "extent", "labels": false, "ticks": false, "domain": false, "title": null, "gridColor": "#e6e9ef"}}, "text": {"field": "TV_Cabo_imp", "format": ",.0f"}}}
                  ]
                },
                {
                  "width": 82, "height": 247, "view": {"stroke": "#e6e9ef"},
                  "layer": [
                    {"data": {"values": [{"cab": "Busca_imp"}]}, "mark": {"type": "text", "align": "left", "baseline": "middle", "dx": 8, "dy": 2, "font": "Noto Sans CJK SC, Liberation Sans, sans-serif", "fontSize": 13.5, "color": "#7b7f8a"}, "encoding": {"x": {"datum": 0, "type": "quantitative", "scale": {"domain": [0, 1], "nice": false, "zero": false}, "axis": null}, "y": {"datum": "cab", "type": "nominal", "scale": {"domain": ["cab", 0, 1, 2, 3, 4, 5], "paddingInner": 0, "paddingOuter": 0}, "axis": {"grid": true, "tickBand": "extent", "labels": false, "ticks": false, "domain": false, "title": null, "gridColor": "#e6e9ef"}}, "text": {"field": "cab"}}},
                    {"data": {"name": "tabela"}, "mark": {"type": "text", "align": "right", "baseline": "middle", "dx": -8, "dy": 2, "font": "Noto Sans CJK SC, Liberation Sans, sans-serif", "fontSize": 13.5, "color": "#262730"}, "encoding": {"x": {"datum": 1, "type": "quantitative"}, "y": {"field": "indice", "type": "nominal", "axis": {"grid": true, "tickBand": "extent", "labels": false, "ticks": false, "domain": false, "title": null, "gridColor": "#e6e9ef"}}, "text": {"field": "Busca_imp", "format": ",.0f"}}}
                  ]
                },
                {
                  "width": 120, "height": 247, "view": {"stroke": "#e6e9ef"},
                  "layer": [
                    {"data": {"values": [{"cab": "Rede_Social_imp"}]}, "mark": {"type": "text", "align": "left", "baseline": "middle", "dx": 8, "dy": 2, "font": "Noto Sans CJK SC, Liberation Sans, sans-serif", "fontSize": 13.5, "color": "#7b7f8a"}, "encoding": {"x": {"datum": 0, "type": "quantitative", "scale": {"domain": [0, 1], "nice": false, "zero": false}, "axis": null}, "y": {"datum": "cab", "type": "nominal", "scale": {"domain": ["cab", 0, 1, 2, 3, 4, 5], "paddingInner": 0, "paddingOuter": 0}, "axis": {"grid": true, "tickBand": "extent", "labels": false, "ticks": false, "domain": false, "title": null, "gridColor": "#e6e9ef"}}, "text": {"field": "cab"}}},
                    {"data": {"name": "tabela"}, "mark": {"type": "text", "align": "right", "baseline": "middle", "dx": -8, "dy": 2, "font": "Noto Sans CJK SC, Liberation Sans, sans-serif", "fontSize": 13.5, "color": "#262730"}, "encoding": {"x": {"datum": 1, "type": "quantitative"}, "y": {"field": "indice", "type": "nominal", "axis": {"grid": true, "tickBand": "extent", "labels": false, "ticks": false, "domain": false, "title": null, "gridColor": "#e6e9ef"}}, "text": {"field": "Rede_Social_imp", "format": ",.0f"}}}
                  ]
                },
                {
                  "width": 97, "height": 247, "view": {"stroke": "#e6e9ef"},
                  "layer": [
                    {"data": {"values": [{"cab": "Outdoor_imp"}]}, "mark": {"type": "text", "align": "left", "baseline": "middle", "dx": 8, "dy": 2, "font": "Noto Sans CJK SC, Liberation Sans, sans-serif", "fontSize": 13.5, "color": "#7b7f8a"}, "encoding": {"x": {"datum": 0, "type": "quantitative", "scale": {"domain": [0, 1], "nice": false, "zero": false}, "axis": null}, "y": {"datum": "cab", "type": "nominal", "scale": {"domain": ["cab", 0, 1, 2, 3, 4, 5], "paddingInner": 0, "paddingOuter": 0}, "axis": {"grid": true, "tickBand": "extent", "labels": false, "ticks": false, "domain": false, "title": null, "gridColor": "#e6e9ef"}}, "text": {"field": "cab"}}},
                    {"data": {"name": "tabela"}, "mark": {"type": "text", "align": "right", "baseline": "middle", "dx": -8, "dy": 2, "font": "Noto Sans CJK SC, Liberation Sans, sans-serif", "fontSize": 13.5, "color": "#262730"}, "encoding": {"x": {"datum": 1, "type": "quantitative"}, "y": {"field": "indice", "type": "nominal", "axis": {"grid": true, "tickBand": "extent", "labels": false, "ticks": false, "domain": false, "title": null, "gridColor": "#e6e9ef"}}, "text": {"field": "Outdoor_imp", "format": ",.0f"}}}
                  ]
                },
                {
                  "width": 92, "height": 247, "view": {"stroke": "#e6e9ef"},
                  "layer": [
                    {"data": {"values": [{"cab": "Cinema_imp"}]}, "mark": {"type": "text", "align": "left", "baseline": "middle", "dx": 8, "dy": 2, "font": "Noto Sans CJK SC, Liberation Sans, sans-serif", "fontSize": 13.5, "color": "#7b7f8a"}, "encoding": {"x": {"datum": 0, "type": "quantitative", "scale": {"domain": [0, 1], "nice": false, "zero": false}, "axis": null}, "y": {"datum": "cab", "type": "nominal", "scale": {"domain": ["cab", 0, 1, 2, 3, 4, 5], "paddingInner": 0, "paddingOuter": 0}, "axis": {"grid": true, "tickBand": "extent", "labels": false, "ticks": false, "domain": false, "title": null, "gridColor": "#e6e9ef"}}, "text": {"field": "cab"}}},
                    {"data": {"name": "tabela"}, "mark": {"type": "text", "align": "right", "baseline": "middle", "dx": -8, "dy": 2, "font": "Noto Sans CJK SC, Liberation Sans, sans-serif", "fontSize": 13.5, "color": "#262730"}, "encoding": {"x": {"datum": 1, "type": "quantitative"}, "y": {"field": "indice", "type": "nominal", "axis": {"grid": true, "tickBand": "extent", "labels": false, "ticks": false, "domain": false, "title": null, "gridColor": "#e6e9ef"}}, "text": {"field": "Cinema_imp", "format": ",.0f"}}}
                  ]
                },
                {
                  "width": 112, "height": 247, "view": {"stroke": "#e6e9ef"},
                  "layer": [
                    {"data": {"values": [{"cab": "TV_Aberta_cpm"}]}, "mark": {"type": "text", "align": "left", "baseline": "middle", "dx": 8, "dy": 2, "font": "Noto Sans CJK SC, Liberation Sans, sans-serif", "fontSize": 13.5, "color": "#7b7f8a"}, "encoding": {"x": {"datum": 0, "type": "quantitative", "scale": {"domain": [0, 1], "nice": false, "zero": false}, "axis": null}, "y": {"datum": "cab", "type": "nominal", "scale": {"domain": ["cab", 0, 1, 2, 3, 4, 5], "paddingInner": 0, "paddingOuter": 0}, "axis": {"grid": true, "tickBand": "extent", "labels": false, "ticks": false, "domain": false, "title": null, "gridColor": "#e6e9ef"}}, "text": {"field": "cab"}}},
                    {"data": {"name": "tabela"}, "mark": {"type": "text", "align": "right", "baseline": "middle", "dx": -8, "dy": 2, "font": "Noto Sans CJK SC, Liberation Sans, sans-serif", "fontSize": 13.5, "color": "#262730"}, "encoding": {"x": {"datum": 1, "type": "quantitative"}, "y": {"field": "indice", "type": "nominal", "axis": {"grid": true, "tickBand": "extent", "labels": false, "ticks": false, "domain": false, "title": null, "gridColor": "#e6e9ef"}}, "text": {"field": "TV_Aberta_cpm", "format": "$,.2f"}}}
                  ]
                },
                {
                  "width": 97, "height": 247, "view": {"stroke": "#e6e9ef"},
                  "layer": [
                    {"data": {"values": [{"cab": "TV_Cabo_cpm"}]}, "mark": {"type": "text", "align": "left", "baseline": "middle", "dx": 8, "dy": 2, "font": "Noto Sans CJK SC, Liberation Sans, sans-serif", "fontSize": 13.5, "color": "#7b7f8a"}, "encoding": {"x": {"datum": 0, "type": "quantitative", "scale": {"domain": [0, 1], "nice": false, "zero": false}, "axis": null}, "y": {"datum": "cab", "type": "nominal", "scale": {"domain": ["cab", 0, 1, 2, 3, 4, 5], "paddingInner": 0, "paddingOuter": 0}, "axis": {"grid": true, "tickBand": "extent", "labels": false, "ticks": false, "domain": false, "title": null, "gridColor": "#e6e9ef"}}, "text": {"field": "cab"}}},
                    {"data": {"name": "tabela"}, "mark": {"type": "text", "align": "right", "baseline": "middle", "dx": -8, "dy": 2, "font": "Noto Sans CJK SC, Liberation Sans, sans-serif", "fontSize": 13.5, "color": "#262730"}, "encoding": {"x": {"datum": 1, "type": "quantitative"}, "y": {"field": "indice", "type": "nominal", "axis": {"grid": true, "tickBand": "extent", "labels": false, "ticks": false, "domain": false, "title": null, "gridColor": "#e6e9ef"}}, "text": {"field": "TV_Cabo_cpm", "format": "$,.2f"}}}
                  ]
                },
                {"width": 17, "height": 247, "data": {"values": [{}]}, "mark": {"type": "rule", "stroke": "#dfe2e7"}, "encoding": {"x": {"datum": 1, "type": "quantitative", "scale": {"domain": [0, 1]}, "axis": null}}}
              ],
              "spacing": 0,
              "bounds": "flush"
            }
          ],
          "spacing": 0,
          "bounds": "flush"
        }
      ],
      "spacing": 34,
      "resolve": {"scale": {"color": "independent"}}
    }
  ],
  "spacing": 11,
  "resolve": {"scale": {"color": "independent"}}
}
